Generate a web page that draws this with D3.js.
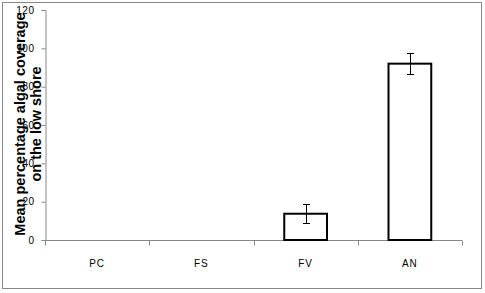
<!DOCTYPE html>
<html><head><meta charset="utf-8">
<script src="https://cdn.jsdelivr.net/npm/d3@7"></script>
<style>body{margin:0;background:#fff}svg{display:block}</style>
</head><body>
<svg id="c" width="485" height="293"></svg>
<script>
const categories = ["PC","FS","FV","AN"];
const means = [0, 0, 13.7, 92];
const errors = [0, 0, 5, 5.4];
const yTicks = [0,20,40,60,80,100,120];
const yLabelLines = ["Mean percentage algal coverage","on the low shore"];

const svg = d3.select("#c");
svg.append("rect").attr("x",2.5).attr("y",2.5).attr("width",479).attr("height",286)
  .attr("fill","#fff").attr("stroke","#888").attr("stroke-width",1);

const x = d3.scaleBand().domain(categories).range([45,462]).paddingInner(0.59).paddingOuter(0.295);
const xb = d3.scaleBand().domain(categories).range([45,462]);
const y = d3.scaleLinear().domain([0,120]).range([240,10]);

// y axis
const ya = svg.append("g").attr("transform","translate(45.5,0)")
  .call(d3.axisLeft(y).tickValues(yTicks).tickSize(4).tickPadding(7));
ya.select(".domain").attr("stroke","#888");
ya.selectAll(".tick line").attr("stroke","#888");
ya.selectAll(".tick text").attr("font-family","Liberation Sans, Arial, sans-serif").attr("font-size",10).attr("fill","#000").attr("letter-spacing",0.5);

// x axis
const xg = svg.append("g").attr("transform","translate(0,240.5)");
xg.append("line").attr("x1",45).attr("x2",462).attr("stroke","#888");
const bounds = categories.map(c=>xb(c)).concat([462]);
xg.selectAll("line.t").data(bounds).join("line").attr("class","t")
  .attr("x1",d=>Math.round(d)+0.5).attr("x2",d=>Math.round(d)+0.5).attr("y1",0).attr("y2",5).attr("stroke","#888");
xg.selectAll("text").data(categories).join("text")
  .attr("x",d=>xb(d)+xb.bandwidth()/2).attr("y",26)
  .attr("text-anchor","middle").attr("font-family","Liberation Sans, Arial, sans-serif")
  .attr("font-size",10).attr("letter-spacing",1).text(d=>d);

// bars
const data = categories.map((c,i)=>({c,m:means[i],e:errors[i]}));
svg.selectAll("rect.bar").data(data.filter(d=>d.m>0)).join("rect").attr("class","bar")
  .attr("x",d=>x(d.c)).attr("y",d=>y(d.m)).attr("width",x.bandwidth()).attr("height",d=>y(0)-y(d.m))
  .attr("fill","#fff").attr("stroke","#000").attr("stroke-width",2);

// error bars
const eb = svg.selectAll("g.eb").data(data.filter(d=>d.m>0)).join("g").attr("class","eb");
eb.append("line").attr("x1",d=>Math.round(xb(d.c)+xb.bandwidth()/2)+0.5).attr("x2",d=>Math.round(xb(d.c)+xb.bandwidth()/2)+0.5)
  .attr("y1",d=>y(d.m+d.e)).attr("y2",d=>y(d.m-d.e)).attr("stroke","#000");
["+","-"].forEach(s=>{
  eb.append("line").attr("x1",d=>Math.round(xb(d.c)+xb.bandwidth()/2)-3).attr("x2",d=>Math.round(xb(d.c)+xb.bandwidth()/2)+4)
    .attr("y1",d=>Math.round(y(s==="+"?d.m+d.e:d.m-d.e))+0.5).attr("y2",d=>Math.round(y(s==="+"?d.m+d.e:d.m-d.e))+0.5).attr("stroke","#000");
});

// y label
const yl = svg.append("text").attr("transform","translate(0,124) rotate(-90)")
  .attr("text-anchor","middle").attr("font-family","Liberation Sans, Arial, sans-serif")
  .attr("font-size",14.5).attr("font-weight","bold");
yl.selectAll("tspan").data(yLabelLines).join("tspan").attr("x",0).attr("y",(d,i)=>25+i*15.5).text(d=>d);
</script>
</body></html>
